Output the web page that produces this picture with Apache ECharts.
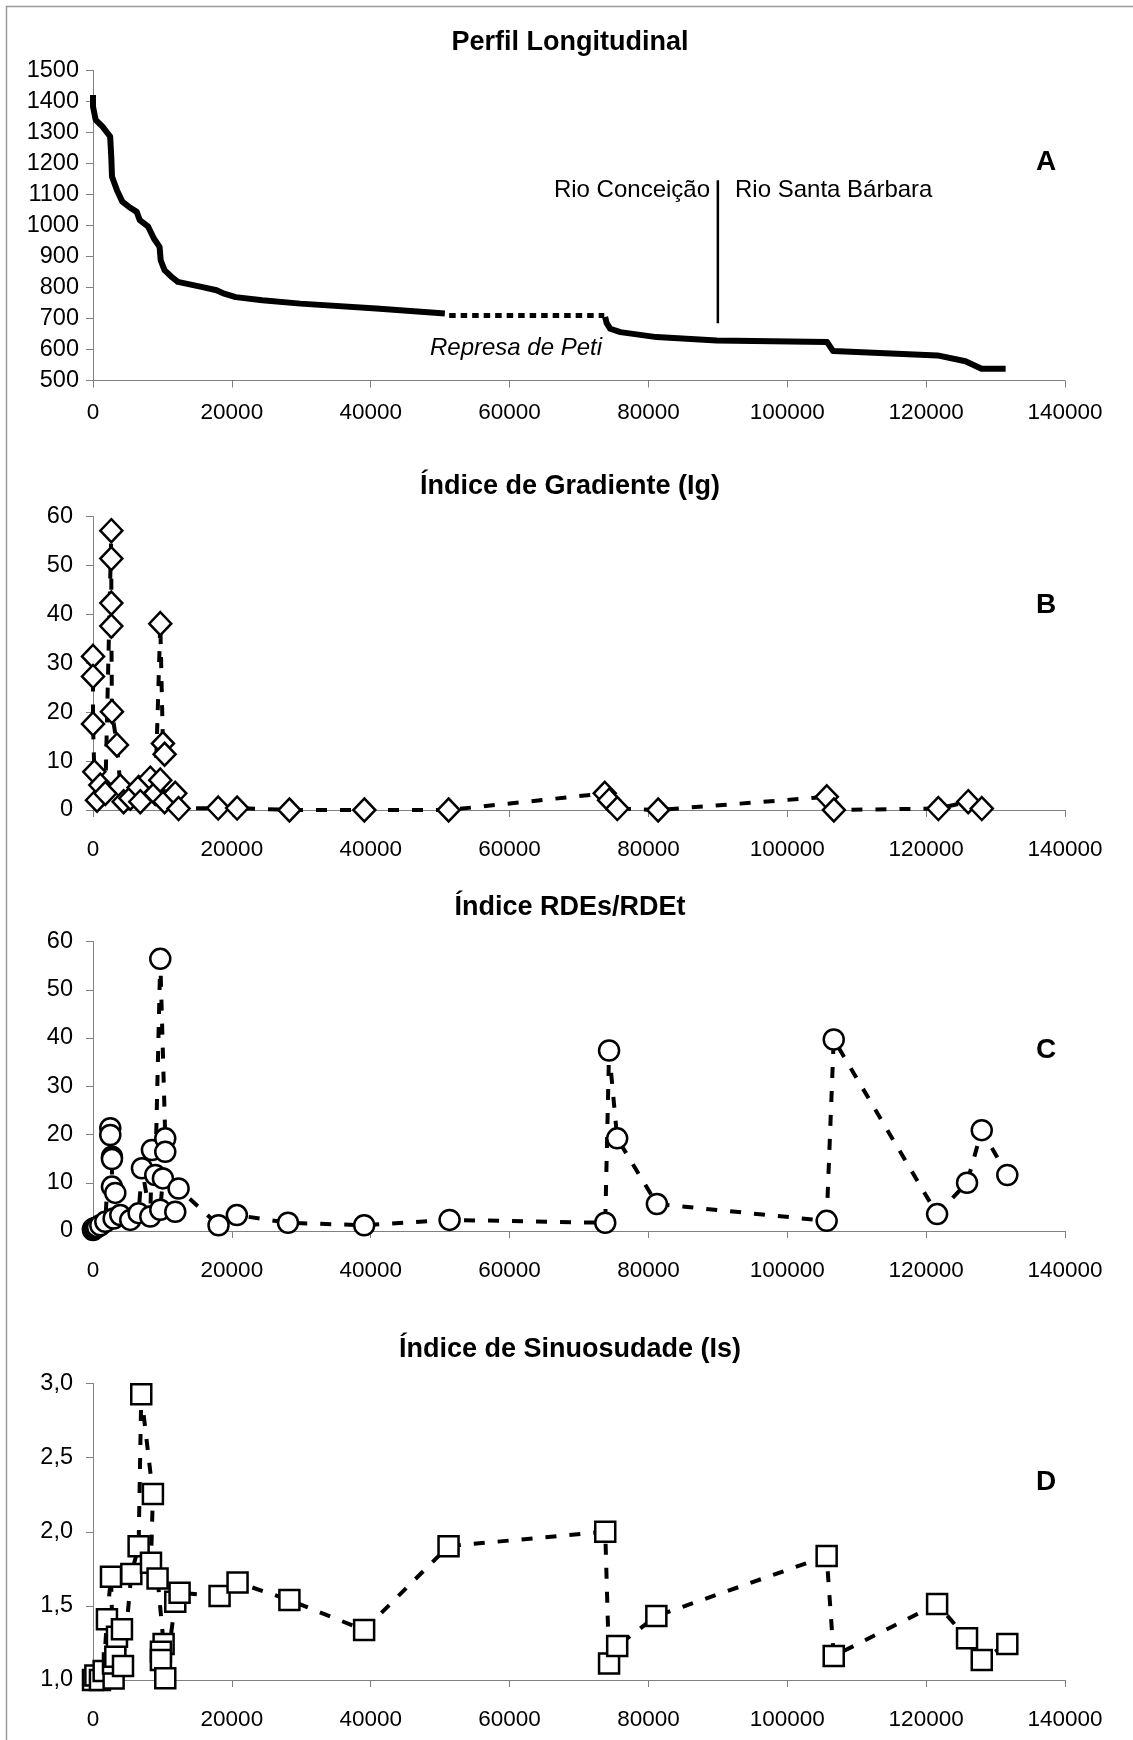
<!DOCTYPE html>
<html>
<head>
<meta charset="utf-8">
<title>Perfil Longitudinal e Índices</title>
<script src="https://cdn.jsdelivr.net/npm/echarts@6/dist/echarts.min.js"></script>
<style>
  html, body { margin: 0; padding: 0; background: #fff; }
  #chart { width: 1133px; height: 1740px; }
</style>
</head>
<body>
<div id="chart"></div>
<script>
const FONT = '"Liberation Sans", Arial, sans-serif';

// Perfil longitudinal (distância em m, altitude em m)
const perfilDist = [0, 0, 380, 1370, 2470, 2630, 2740, 3450, 4220, 5200, 6300, 6740, 7950, 8770, 9590, 9750, 10300, 11340, 12220, 15620, 17800, 18900, 20550, 24380, 29860, 40800, 50680];
const perfilAlt = [1421, 1384, 1341, 1319, 1287, 1222, 1157, 1114, 1077, 1060, 1044, 1017, 996, 958, 931, 888, 856, 834, 818, 802, 791, 780, 769, 759, 748, 732, 716];
const represaDist = [51300, 73640];
const represaAlt = [710, 710];
const jusanteDist = [73760, 74000, 74500, 75950, 81160, 89830, 105740, 106600, 121620, 125670, 127980, 131450];
const jusanteAlt = [705, 684, 667, 656, 640, 629, 624, 595, 581, 562, 538, 538];
const divisaDist = [90000, 90000];
const divisaAlt = [685, 1146];

// Índice de Gradiente (Ig)
const distB = [0, 0, 0, 190, 575, 1055, 1775, 2640, 2640, 2640, 2640, 2730, 3450, 3930, 4410, 5370, 6570, 6810, 8250, 8970, 9690, 10070, 10310, 9690, 10310, 11850, 12330, 18030, 20760, 28290, 39080, 51220, 73710, 74340, 75520, 81400, 105690, 106710, 121760, 126060, 128020];
const valB = [31.4, 27.3, 17.6, 7.8, 2.0, 5.1, 3.4, 57.1, 51.4, 42.3, 37.6, 20.1, 13.3, 4.9, 1.7, 2.4, 4.6, 1.7, 6.5, 3.4, 38.1, 13.6, 11.4, 6.1, 1.7, 3.4, 0.3, 0.4, 0.4, 0, 0, 0, 3.4, 2.0, 0.3, 0, 2.7, 0, 0.3, 1.7, 0.3];

// Índice RDEs/RDEt
const distC = [0, 0, 300, 600, 1055, 1775, 2490, 2490, 2730, 2730, 2730, 3210, 2970, 3930, 5370, 6570, 7050, 8250, 8490, 8970, 9690, 10410, 10410, 10070, 9690, 11850, 12330, 18080, 20720, 28090, 39060, 51360, 73780, 74330, 75500, 81220, 105670, 106690, 121580, 125890, 128010, 131690];
const valC = [0.2, 0.4, 0.6, 0.8, 1.2, 1.9, 21.3, 19.9, 15.4, 14.9, 9.2, 7.9, 2.6, 3.3, 2.3, 3.7, 13.0, 3.0, 16.8, 11.6, 56.4, 19.2, 16.4, 10.9, 4.4, 4.0, 8.8, 1.2, 3.3, 1.7, 1.2, 2.3, 1.7, 37.4, 19.2, 5.6, 2.1, 39.7, 3.5, 10.0, 20.9, 11.6];

// Índice de Sinuosidade (Is)
const distD = [0, 340, 1000, 1535, 2010, 2590, 2970, 2880, 3210, 3450, 4170, 4320, 5520, 6570, 6950, 8630, 8350, 9300, 10170, 9780, 9780, 10410, 11850, 12470, 18230, 20820, 28290, 39050, 51210, 73780, 74330, 75500, 81140, 105670, 106690, 121580, 125890, 128010, 131690];
const valD = [1.0, 1.03, 1.0, 1.06, 1.409, 1.697, 1.01, 1.112, 1.157, 1.292, 1.342, 1.094, 1.715, 1.903, 2.928, 2.254, 1.791, 1.685, 1.243, 1.19, 1.135, 1.011, 1.528, 1.589, 1.566, 1.658, 1.539, 1.337, 1.903, 2.0, 1.112, 1.229, 1.431, 1.836, 1.162, 1.512, 1.281, 1.135, 1.243];

const titulos = ["Perfil Longitudinal", "Índice de Gradiente (Ig)", "Índice RDEs/RDEt", "Índice de Sinuosudade (Is)"];
const letras = ["A", "B", "C", "D"];

function zip(xs, ys) {
  return xs.map((x, i) => [x, ys[i]]);
}

const grids = [
  { left: 93, width: 972, top: 70.5, height: 310 },
  { left: 93, width: 972, top: 516.5, height: 293.5 },
  { left: 93, width: 972, top: 941.5, height: 289.5 },
  { left: 93, width: 972, top: 1383.5, height: 296.5 },
];
const tituloY = [43, 487, 908, 1350];
const letraY = [162, 605, 1050, 1482];

const plain = (v) => String(v);
const decimal = (v) => v.toFixed(1).replace(".", ",");

function xAxisFor(gridIndex, margin) {
  return {
    type: "value",
    gridIndex: gridIndex,
    min: 0,
    max: 140000,
    interval: 20000,
    axisLine: { show: true, onZero: false, lineStyle: { color: "#808080", width: 1 } },
    axisTick: { show: true, length: 7, lineStyle: { color: "#808080" } },
    splitLine: { show: false },
    axisLabel: { color: "#000", fontSize: 22.5, fontFamily: FONT, margin: margin, formatter: plain },
  };
}

function yAxisFor(gridIndex, min, max, interval, margin, formatter) {
  return {
    type: "value",
    gridIndex: gridIndex,
    min: min,
    max: max,
    interval: interval,
    axisLine: { show: true, onZero: false, lineStyle: { color: "#808080", width: 1 } },
    axisTick: { show: true, length: 7, lineStyle: { color: "#808080" } },
    splitLine: { show: false },
    axisLabel: { color: "#000", fontSize: 23.5, fontFamily: FONT, margin: margin, formatter: formatter },
  };
}

function indexSeries(idx, data, symbol, size) {
  return {
    type: "line",
    xAxisIndex: idx,
    yAxisIndex: idx,
    data: data,
    symbol: symbol,
    symbolSize: size,
    showAllSymbol: true,
    clip: false,
    itemStyle: { color: "#fff", borderColor: "#000", borderWidth: 2.5 },
    lineStyle: { color: "#000", width: 4, type: [11, 13] },
    emphasis: { disabled: true },
  };
}

const graphics = [
  {
    type: "rect",
    shape: { x: 6.5, y: 6.5, width: 1160, height: 1760 },
    style: { fill: "none", stroke: "#9a9a9a", lineWidth: 1.5 },
  },
];
titulos.forEach((t, i) => {
  graphics.push({
    type: "text",
    style: {
      text: t, x: 570, y: tituloY[i], fill: "#000",
      font: 'bold 27px "Liberation Sans", Arial, sans-serif',
      align: "center", verticalAlign: "middle",
    },
  });
  graphics.push({
    type: "text",
    style: {
      text: letras[i], x: 1046, y: letraY[i], fill: "#000",
      font: 'bold 28px "Liberation Sans", Arial, sans-serif',
      align: "center", verticalAlign: "middle",
    },
  });
});
graphics.push(
  {
    type: "text",
    style: {
      text: "Rio Conceição", x: 710, y: 190, fill: "#000",
      font: '24px "Liberation Sans", Arial, sans-serif',
      align: "right", verticalAlign: "middle",
    },
  },
  {
    type: "text",
    style: {
      text: "Rio Santa Bárbara", x: 735, y: 190, fill: "#000",
      font: '24px "Liberation Sans", Arial, sans-serif',
      align: "left", verticalAlign: "middle",
    },
  },
  {
    type: "text",
    style: {
      text: "Represa de Peti", x: 516, y: 348, fill: "#000",
      font: 'italic 24px "Liberation Sans", Arial, sans-serif',
      align: "center", verticalAlign: "middle",
    },
  }
);

const option = {
  animation: false,
  backgroundColor: "#fff",
  grid: grids.map((g) => Object.assign({ outerBoundsMode: "none" }, g)),
  xAxis: [xAxisFor(0, 21), xAxisFor(1, 28), xAxisFor(2, 28), xAxisFor(3, 28)],
  yAxis: [
    yAxisFor(0, 500, 1500, 100, 14, plain),
    yAxisFor(1, 0, 60, 10, 20, plain),
    yAxisFor(2, 0, 60, 10, 20, plain),
    yAxisFor(3, 1, 3, 0.5, 20, decimal),
  ],
  graphic: graphics,
  series: [
    {
      type: "line", xAxisIndex: 0, yAxisIndex: 0,
      data: zip(perfilDist, perfilAlt), symbol: "none",
      lineStyle: { color: "#000", width: 6, join: "round" },
    },
    {
      type: "line", xAxisIndex: 0, yAxisIndex: 0,
      data: zip(represaDist, represaAlt), symbol: "none",
      lineStyle: { color: "#000", width: 5, type: [6.5, 5] },
    },
    {
      type: "line", xAxisIndex: 0, yAxisIndex: 0,
      data: zip(jusanteDist, jusanteAlt), symbol: "none",
      lineStyle: { color: "#000", width: 6, join: "round" },
    },
    {
      type: "line", xAxisIndex: 0, yAxisIndex: 0,
      data: zip(divisaDist, divisaAlt), symbol: "none",
      lineStyle: { color: "#000", width: 2.5 },
    },
    indexSeries(1, zip(distB, valB), "diamond", [22, 23]),
    indexSeries(2, zip(distC, valC), "circle", 20),
    indexSeries(3, zip(distD, valD), "rect", 20),
  ],
};

const chart = echarts.init(document.getElementById("chart"));
chart.setOption(option);
</script>
</body>
</html>
